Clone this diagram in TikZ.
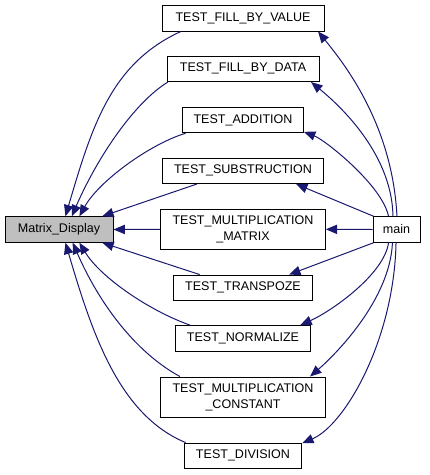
\documentclass[tikz,border=0pt]{standalone}
\usepackage{fontspec}
\setmainfont{Liberation Sans}
\usepackage{xcolor}
\usepackage{tikz}
\usetikzlibrary{arrows.meta}
\definecolor{EDGE}{HTML}{191970}
\definecolor{HILITE}{HTML}{BFBFBF}

\begin{document}
\begin{tikzpicture}[
    x=0.75pt, y=-0.75pt,
    fn/.style={draw=black, line width=0.75pt, fill=white, inner sep=0pt,
      minimum height=19.1pt, align=center,
      font=\fontsize{9.4}{11.8}\selectfont},
    cur/.style={fn, fill=HILITE},
    tall/.style={minimum height=30pt},
    call/.style={draw=EDGE, line width=0.75pt,
      -{Triangle[length=8.5pt, width=7pt]}, EDGE},
  ]
  \useasboundingbox (0,0) rectangle (429,475);

  % functions
  \node[cur, minimum width=81pt]    (disp) at (59,229.5)  {Matrix\_Display};
  \node[fn, minimum width=35.25pt]  (main) at (396.5,229.5) {main};
  \node[fn, minimum width=121.5pt]  (fbv)  at (243,18.3)  {TEST\_FILL\_BY\_VALUE};
  \node[fn, minimum width=114pt]    (fbd)  at (243,68.8)  {TEST\_FILL\_BY\_DATA};
  \node[fn, minimum width=90.75pt]  (add)  at (243,120)   {TEST\_ADDITION};
  \node[fn, minimum width=120.75pt] (sub)  at (243,170.8) {TEST\_SUBSTRUCTION};
  \node[fn, tall, minimum width=123.5pt] (mulm) at (243,229.3) {TEST\_MULTIPLICATION\\\_MATRIX};
  \node[fn, minimum width=104.5pt]  (tra)  at (243,287.8) {TEST\_TRANSPOZE};
  \node[fn, minimum width=101.25pt] (nor)  at (243,338.3) {TEST\_NORMALIZE};
  \node[fn, tall, minimum width=123.5pt] (mulc) at (243,397) {TEST\_MULTIPLICATION\\\_CONSTANT};
  \node[fn, minimum width=88pt]     (div)  at (243,455.8) {TEST\_DIVISION};

  % calls into Matrix_Display
  \draw[call] (fbv.192) .. controls (111,63.5) and (92,126) .. (disp.64);
  \draw[call] (fbd.190) .. controls (135,102) and (98,156) .. (disp.46);
  \draw[call] (add.193) .. controls (150,144) and (99,181) .. (disp.33);
  \draw[call] (sub.196) -- (disp.17);
  \draw[call] (mulm.west) -- (disp.east);
  \draw[call] (tra.163) -- (disp.-17);
  \draw[call] (nor.166) .. controls (150,311) and (101,278) .. (disp.-33);
  \draw[call] (mulc.162) .. controls (135,352) and (99,303) .. (disp.-44);
  \draw[call] (div.167) .. controls (119,415) and (92,333) .. (disp.-64);

  % calls from main
  \draw[call] (main.88) .. controls (392.5,127) and (347,67) .. (fbv.-10.7);
  \draw[call] (main.105) .. controls (392,150) and (333,100) .. (fbd.-11.3);
  \draw[call] (main.121) .. controls (382,185) and (325,140) .. (add.-11.8);
  \draw[call] (main.150) -- (sub.-14.5);
  \draw[call] (main.west) -- (mulm.east);
  \draw[call] (main.-150) -- (tra.16.6);
  \draw[call] (main.-121) .. controls (384,275) and (330,312) .. (nor.13.2);
  \draw[call] (main.-107) .. controls (390,300) and (335,355) .. (mulc.17.4);
  \draw[call] (main.-92) .. controls (394,340) and (345,425) .. (div.12);

\end{tikzpicture}
\end{document}
